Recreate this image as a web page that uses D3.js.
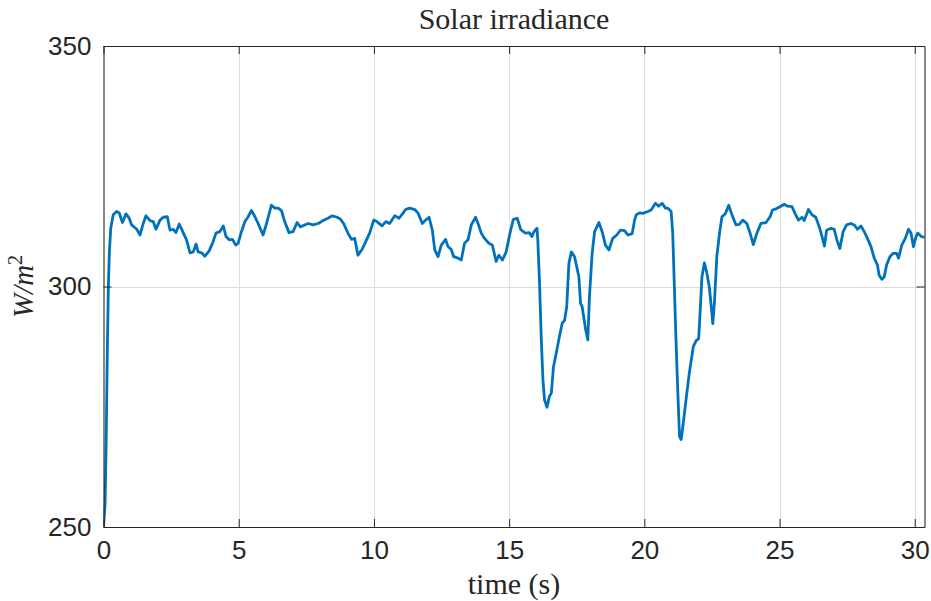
<!DOCTYPE html>
<html>
<head>
<meta charset="utf-8">
<script src="https://cdn.jsdelivr.net/npm/d3@7"></script>
<style>
  html, body { margin: 0; padding: 0; background: #ffffff; }
  svg { display: block; }
  .tick-label { font-family: "Liberation Sans", Arial, Helvetica, sans-serif; font-size: 26px; fill: #262626; }
  .latex { font-family: "Liberation Serif", "Times New Roman", serif; fill: #262626; }
</style>
</head>
<body>
<script>
// Solar irradiance trace (time in seconds, irradiance in W/m^2)
const timeS = [
  0.00, 0.06, 0.10, 0.14, 0.18, 0.22, 0.27, 0.36, 0.49, 0.58, 0.70, 0.83, 0.95, 1.04, 1.23, 1.35,
  1.47, 1.57, 1.72, 1.84, 1.94, 2.09, 2.21, 2.36, 2.46, 2.58, 2.68, 2.80, 2.93, 3.07, 3.20, 3.32,
  3.42, 3.50, 3.63, 3.75, 3.91, 4.03, 4.16, 4.30, 4.43, 4.53, 4.65, 4.77, 4.89, 4.98, 5.10, 5.23,
  5.35, 5.47, 5.60, 5.72, 5.90, 6.03, 6.21, 6.34, 6.46, 6.58, 6.70, 6.86, 7.01, 7.16, 7.28, 7.44,
  7.57, 7.75, 7.94, 8.12, 8.30, 8.46, 8.64, 8.76, 8.88, 9.04, 9.17, 9.29, 9.41, 9.57, 9.71, 9.85,
  9.99, 10.11, 10.30, 10.44, 10.58, 10.77, 10.93, 11.07, 11.17, 11.32, 11.51, 11.63, 11.79, 11.91, 12.04, 12.16,
  12.25, 12.37, 12.49, 12.65, 12.74, 12.86, 12.95, 13.11, 13.23, 13.35, 13.48, 13.60, 13.76, 13.85, 13.97, 14.09,
  14.25, 14.38, 14.52, 14.62, 14.75, 14.89, 15.02, 15.15, 15.30, 15.43, 15.60, 15.75, 15.84, 15.92, 16.03, 16.06,
  16.12, 16.19, 16.25, 16.31, 16.40, 16.49, 16.56, 16.64, 16.74, 16.86, 16.96, 17.05, 17.13, 17.21, 17.30, 17.42,
  17.58, 17.64, 17.70, 17.83, 17.91, 17.97, 18.07, 18.16, 18.32, 18.44, 18.56, 18.69, 18.83, 18.98, 19.11, 19.27,
  19.39, 19.55, 19.64, 19.70, 19.82, 19.94, 20.13, 20.25, 20.41, 20.53, 20.66, 20.78, 20.87, 20.99, 21.05, 21.11,
  21.17, 21.23, 21.30, 21.36, 21.44, 21.54, 21.66, 21.81, 21.91, 22.01, 22.06, 22.13, 22.22, 22.30, 22.40, 22.50,
  22.53, 22.59, 22.68, 22.78, 22.87, 23.00, 23.12, 23.24, 23.39, 23.51, 23.64, 23.79, 23.91, 24.03, 24.15, 24.31,
  24.50, 24.65, 24.74, 24.89, 25.05, 25.17, 25.30, 25.46, 25.58, 25.70, 25.83, 25.91, 26.07, 26.20, 26.34, 26.47,
  26.57, 26.66, 26.74, 26.90, 27.02, 27.12, 27.23, 27.35, 27.48, 27.64, 27.76, 27.88, 28.01, 28.13, 28.25, 28.38,
  28.50, 28.62, 28.68, 28.78, 28.87, 28.96, 29.08, 29.20, 29.33, 29.40, 29.52, 29.65, 29.77, 29.86, 29.95, 30.05,
  30.11, 30.24, 30.36
];
const irradiance = [
  250.0, 255.0, 268.0, 286.0, 300.0, 307.5, 312.2, 314.9, 315.6, 315.3, 313.3, 315.1, 314.2, 312.8, 311.9, 310.7,
  313.1, 314.7, 313.7, 313.5, 311.9, 313.8, 314.4, 314.5, 311.7, 311.9, 311.2, 313.0, 311.4, 309.7, 307.0, 307.2,
  308.8, 307.2, 307.0, 306.3, 307.4, 309.0, 311.1, 311.4, 312.6, 310.4, 309.7, 309.8, 308.6, 309.0, 311.4, 313.5,
  314.5, 315.8, 314.5, 313.1, 310.7, 313.1, 316.9, 316.3, 316.3, 315.8, 313.5, 311.2, 311.4, 313.3, 312.4, 312.8,
  313.1, 312.8, 313.1, 313.7, 314.2, 314.7, 314.4, 314.0, 313.1, 311.1, 309.8, 310.0, 306.5, 307.8, 309.5, 311.2,
  313.8, 313.5, 312.6, 313.5, 313.1, 314.7, 314.2, 315.2, 316.0, 316.3, 316.0, 315.3, 313.1, 313.8, 314.4, 311.7,
  307.6, 306.2, 308.6, 309.8, 308.3, 307.7, 306.2, 305.9, 305.5, 309.0, 309.7, 312.8, 314.4, 313.1, 311.1, 310.0,
  309.0, 308.6, 305.2, 306.5, 305.5, 307.2, 310.8, 313.9, 314.2, 311.8, 311.1, 311.2, 310.4, 311.4, 312.1, 309.7,
  301.4, 288.9, 280.6, 276.4, 274.9, 277.2, 277.8, 283.3, 286.1, 289.6, 292.3, 293.0, 295.8, 304.8, 307.2, 306.2,
  302.0, 296.5, 295.8, 291.0, 288.9, 297.9, 306.9, 311.4, 313.3, 311.4, 308.6, 307.6, 310.0, 310.7, 311.7, 311.6,
  310.7, 311.0, 313.8, 314.9, 315.3, 315.2, 315.6, 315.9, 317.3, 316.7, 317.3, 316.3, 316.3, 315.6, 311.1, 300.0,
  288.9, 279.2, 268.8, 268.2, 271.6, 276.4, 281.9, 287.5, 288.7, 289.2, 294.4, 302.0, 304.9, 303.1, 300.0, 294.4,
  292.3, 296.5, 306.2, 311.1, 314.5, 315.2, 316.9, 314.9, 312.8, 312.9, 313.8, 313.1, 311.1, 308.7, 310.9, 313.1,
  313.3, 314.5, 315.9, 316.2, 316.7, 317.1, 316.7, 316.6, 315.1, 313.8, 314.4, 313.7, 316.0, 314.9, 314.4, 312.4,
  310.4, 308.4, 311.7, 312.1, 311.9, 309.7, 307.9, 311.4, 312.8, 313.1, 312.8, 311.9, 312.6, 311.4, 310.0, 308.3,
  305.9, 304.5, 302.4, 301.5, 302.0, 304.5, 306.2, 306.9, 306.9, 305.9, 308.6, 310.0, 311.9, 311.1, 308.3, 310.4,
  311.1, 310.4, 310.2
];

const xTicks = [0, 5, 10, 15, 20, 25, 30];
const yTicks = [250, 300, 350];
const xDomain = [0, 30.36];
const yDomain = [250, 350];

const titleText = "Solar irradiance";
const xLabelText = "time (s)";

const width = 931, height = 601;
const margin = { left: 103.5, right: 931 - 924.5, top: 46, bottom: 601 - 527 };
const plotW = width - margin.left - margin.right;
const plotH = height - margin.top - margin.bottom;

const svg = d3.select("body").append("svg")
  .attr("width", width)
  .attr("height", height);

const x = d3.scaleLinear().domain(xDomain).range([margin.left, margin.left + plotW]);
const y = d3.scaleLinear().domain(yDomain).range([margin.top + plotH, margin.top]);

const axisColor = "#262626";
const tickLen = 8;

// grid lines
const grid = svg.append("g").attr("stroke", "#dedede").attr("stroke-width", 1);
grid.selectAll("line.gx").data(xTicks.filter(t => t > xDomain[0] && t < xDomain[1]))
  .join("line")
  .attr("x1", d => Math.round(x(d)) + 0.5).attr("x2", d => Math.round(x(d)) + 0.5)
  .attr("y1", y(yDomain[0])).attr("y2", y(yDomain[1]));
grid.selectAll("line.gy").data(yTicks.filter(t => t > yDomain[0] && t < yDomain[1]))
  .join("line")
  .attr("y1", d => Math.round(y(d)) + 0.5).attr("y2", d => Math.round(y(d)) + 0.5)
  .attr("x1", x(xDomain[0])).attr("x2", x(xDomain[1]));

// data line, clipped to the axes box
svg.append("clipPath").attr("id", "plot-clip")
  .append("rect")
  .attr("x", margin.left).attr("y", margin.top - 2)
  .attr("width", plotW).attr("height", plotH + 2);

const series = timeS.map((t, i) => [t, irradiance[i]]);
const line = d3.line().x(d => x(d[0])).y(d => y(d[1]));

svg.append("path")
  .datum(series)
  .attr("clip-path", "url(#plot-clip)")
  .attr("fill", "none")
  .attr("stroke", "#0072BD")
  .attr("stroke-width", 2.8)
  .attr("stroke-linejoin", "round")
  .attr("d", line);

// axes: bottom / left with labels, top / right as box with inward ticks
const bottomAxis = d3.axisBottom(x).tickValues(xTicks).tickSizeInner(-tickLen).tickSizeOuter(0).tickPadding(14);
const leftAxis = d3.axisLeft(y).tickValues(yTicks).tickSizeInner(-tickLen).tickSizeOuter(0).tickPadding(12);
const topAxis = d3.axisTop(x).tickValues(xTicks).tickSizeInner(-tickLen).tickSizeOuter(0).tickFormat("");
const rightAxis = d3.axisRight(y).tickValues(yTicks).tickSizeInner(-tickLen).tickSizeOuter(0).tickFormat("");

function styleAxis(g) {
  g.select(".domain").attr("stroke", axisColor).attr("stroke-width", 1.1);
  g.selectAll(".tick line").attr("stroke", axisColor).attr("stroke-width", 1);
  g.selectAll(".tick text").attr("class", "tick-label").attr("fill", axisColor);
}

svg.append("g").attr("transform", `translate(0,${y(yDomain[0])})`).call(bottomAxis).call(styleAxis)
  .selectAll(".tick text").attr("dy", "0.71em");
svg.append("g").attr("transform", `translate(${x(xDomain[0])},0)`).call(leftAxis).call(styleAxis);
svg.append("g").attr("transform", `translate(0,${y(yDomain[1])})`).call(topAxis).call(styleAxis);
svg.append("g").attr("transform", `translate(${x(xDomain[1])},0)`).call(rightAxis).call(styleAxis);

svg.selectAll("g").attr("font-family", null).attr("font-size", null);

// title
const cx = margin.left + plotW / 2;
svg.append("text")
  .attr("class", "latex")
  .attr("x", cx).attr("y", 29)
  .attr("text-anchor", "middle")
  .attr("font-size", 30)
  .text(titleText);

// x axis label
svg.append("text")
  .attr("class", "latex")
  .attr("x", cx).attr("y", 594)
  .attr("text-anchor", "middle")
  .attr("font-size", 30)
  .text(xLabelText);

// y axis label: W/m^2 in math italic
const yl = svg.append("text")
  .attr("class", "latex")
  .attr("transform", `translate(33,${margin.top + plotH / 2}) rotate(-90)`)
  .attr("text-anchor", "middle")
  .attr("font-size", 29)
  .attr("font-style", "italic");
yl.append("tspan").text("W/m");
yl.append("tspan").attr("font-size", 20).attr("font-style", "normal").attr("dy", -11).text("2");
</script>
</body>
</html>
